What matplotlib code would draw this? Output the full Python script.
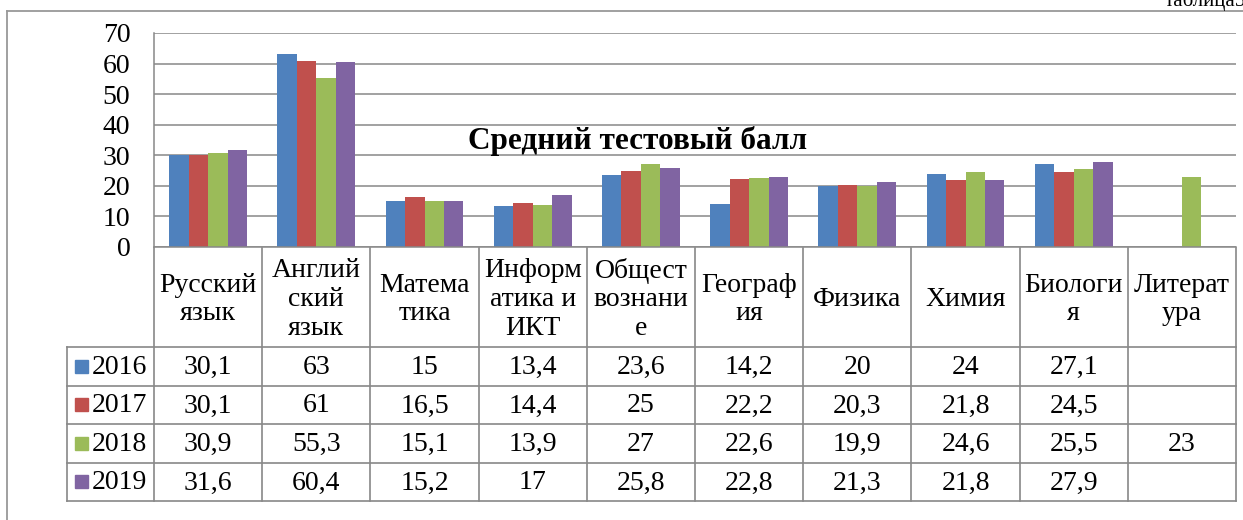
import matplotlib
matplotlib.use("Agg")
import matplotlib.pyplot as plt
import numpy as np
from matplotlib.lines import Line2D

# ---------------------------------------------------------------------------
# Data
# ---------------------------------------------------------------------------
subjects = ["Русский\nязык", "Англий\nский\nязык", "Матема\nтика", "Информ\nатика и\nИКТ",
            "Общест\nвознани\nе", "Географ\nия", "Физика", "Химия", "Биологи\nя", "Литерат\nура"]
years = ["2016", "2017", "2018", "2019"]
v2016 = [30.1, 63, 15, 13.4, 23.6, 14.2, 20, 24, 27.1, np.nan]
v2017 = [30.1, 61, 16.5, 14.4, 25, 22.2, 20.3, 21.8, 24.5, np.nan]
v2018 = [30.9, 55.3, 15.1, 13.9, 27, 22.6, 19.9, 24.6, 25.5, 23]
v2019 = [31.6, 60.4, 15.2, 17, 25.8, 22.8, 21.3, 21.8, 27.9, np.nan]
series = [v2016, v2017, v2018, v2019]
colors = ["#4F81BD", "#C0504D", "#9BBB59", "#8064A2"]
title = "Средний тестовый балл"
corner_note = "таблица5"

# ---------------------------------------------------------------------------
# Layout (pixels)
# ---------------------------------------------------------------------------
W, H = 1243, 520
plt.rcParams["font.family"] = ["Liberation Serif", "DejaVu Serif"]
GRAY = "#888888"
FS = 20

fig = plt.figure(figsize=(W / 100, H / 100), dpi=100)

def fx(px): return px / W
def fy(py): return (H - py) / H

x_left, x_right = 154, 1236
y_top, y_zero = 33, 247
t_top, t_bot = 248, 501
leg_left = 67
cat_w = (x_right - x_left) / 10

ax = fig.add_axes([fx(x_left), fy(y_zero), fx(x_right - x_left), (y_zero - y_top) / H])
n = len(subjects)
x = np.arange(n) + 0.5
bw = 0.18
for i, (vals, col) in enumerate(zip(series, colors)):
    ax.bar(x + (i - 1.5) * bw, vals, width=bw, color=col, edgecolor="none")

ax.set_xlim(0, n)
ax.set_ylim(0, 70)
ax.set_yticks(range(0, 71, 10))
ax.set_xticks([])
ax.yaxis.grid(True, color=GRAY, linewidth=1.1)
ax.set_axisbelow(True)
for s in ["top", "right"]:
    ax.spines[s].set_visible(False)
for s in ["left", "bottom"]:
    ax.spines[s].set_color(GRAY)
    ax.spines[s].set_linewidth(1.1)
ax.tick_params(axis="y", length=0, pad=17, labelsize=FS)

fig.text(fx(638), fy(141), title, ha="center", va="center",
         fontsize=22.5, fontweight="bold")

# ---------------------------------------------------------------------------
# Data table
# ---------------------------------------------------------------------------
tx = fig.add_axes([fx(leg_left), fy(t_bot), fx(x_right - leg_left), (t_bot - t_top) / H])
left_u = -(x_left - leg_left) / cat_w
tx.set_xlim(left_u, n)
tx.set_ylim(t_bot, t_top)
tx.axis("off")

row_lines = [347, 386, 424, 463, 501]
lw = 1.2
for k in range(n + 1):
    tx.plot([k, k], [t_top, t_bot], color=GRAY, lw=lw, clip_on=False)
tx.plot([left_u, left_u], [row_lines[0], t_bot], color=GRAY, lw=lw, clip_on=False)
for yl in row_lines:
    tx.plot([left_u, n], [yl, yl], color=GRAY, lw=lw, clip_on=False)

for k, name in enumerate(subjects):
    tx.text(k + 0.5, (t_top + row_lines[0]) / 2 + 2, name, ha="center", va="center",
            fontsize=FS, linespacing=1.2)

key_w = 13 / cat_w
for r, (yr, vals, col) in enumerate(zip(years, series, colors)):
    yc = (row_lines[r] + row_lines[r + 1]) / 2
    tx.add_patch(plt.Rectangle((left_u + 8 / cat_w, yc - 6.5), key_w, 13,
                               color=col, clip_on=False))
    tx.text(left_u + 25 / cat_w, yc + 1, yr, ha="left", va="center", fontsize=FS)
    for k, v in enumerate(vals):
        if np.isnan(v):
            continue
        s = f"{v:g}".replace(".", ",")
        tx.text(k + 0.5, yc + 1, s, ha="center", va="center", fontsize=FS)

# outer frame and note
fig.add_artist(Line2D([fx(7), fx(7)], [fy(11), fy(H + 5)], color="#999999", lw=1.3))
fig.add_artist(Line2D([fx(7), fx(W + 5)], [fy(11), fy(11)], color="#999999", lw=1.3))
fig.text(fx(1246), fy(6), corner_note, ha="right", va="baseline", fontsize=15)

fig.savefig("out.png", dpi=100)
